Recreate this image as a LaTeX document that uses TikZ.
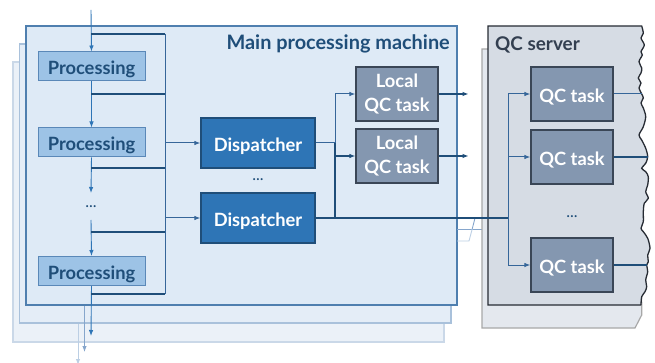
\documentclass[tikz,border=0pt]{standalone}
\usepackage{fontspec}
\setmainfont{Lato}
\usetikzlibrary{arrows.meta}
\definecolor{mainfill}{HTML}{DEEAF6}
\definecolor{mainborder}{HTML}{4F7FAF}
\definecolor{midfill}{HTML}{E4EDF7}
\definecolor{midborder}{HTML}{A9C1DB}
\definecolor{backfill}{HTML}{EBF1F8}
\definecolor{backborder}{HTML}{CAD8E8}
\definecolor{procfill}{HTML}{9DC3E6}
\definecolor{procborder}{HTML}{5A88B8}
\definecolor{darkblue}{HTML}{1F4E79}
\definecolor{dispfill}{HTML}{2E75B6}
\definecolor{qcfill}{HTML}{8497B0}
\definecolor{qcborder}{HTML}{3A4656}
\definecolor{srvfill}{HTML}{D6DCE4}
\definecolor{srvborder}{HTML}{262B33}
\definecolor{srvshfill}{HTML}{E4E8EE}
\definecolor{srvshborder}{HTML}{A8A8A8}
\definecolor{flowcol}{HTML}{2E75B6}
\definecolor{thincol}{HTML}{366699}
\definecolor{shmid}{HTML}{86A6CC}
\definecolor{shlight}{HTML}{BCCFE4}
\definecolor{srvtitle}{HTML}{333F50}
\tikzset{
  boxfont/.style={font=\bfseries\fontsize{18.3}{24}\selectfont},
  oneline/.style={text height=16.2pt, text depth=0pt},
  proc/.style={draw=procborder, fill=procfill, line width=1pt, minimum width=107pt, minimum height=29pt, inner sep=0pt, text=darkblue, boxfont, oneline},
  disp/.style={draw=darkblue, fill=dispfill, line width=1.2pt, minimum width=114pt, minimum height=50pt, inner sep=0pt, text=white, boxfont, oneline},
  qcbox/.style={draw=qcborder, fill=qcfill, line width=1.2pt, minimum width=82pt, minimum height=54pt, inner sep=0pt, text=white, align=center, boxfont},
  tip/.style={-{Latex[length=6pt,width=4.5pt]}},
  flow/.style={draw=flowcol, line width=0.9pt},
  busline/.style={draw=darkblue, line width=1.6pt},
  thinline/.style={draw=thincol, line width=1pt},
  dots/.style={text=darkblue, font=\fontsize{16}{16}\selectfont, inner sep=0pt},
  titlefont/.style={font=\bfseries\fontsize{19.9}{22}\selectfont, inner sep=0pt}
}
\begin{document}
\begin{tikzpicture}[x=1pt,y=-1pt]
\useasboundingbox (0,0) rectangle (655,363);
% stacked machine layers
\filldraw[fill=backfill, draw=backborder, line width=1.2pt] (13,62) rectangle (444,342);
\draw[draw=shlight, line width=0.9pt, tip] (78,320) -- (78,365);
\filldraw[fill=midfill, draw=midborder, line width=1.2pt] (19.5,44) rectangle (451,323);
\draw[draw=shmid, line width=0.9pt, tip] (84.5,300) -- (84.5,352);
\filldraw[fill=mainfill, draw=mainborder, line width=1.2pt] (26,26) rectangle (457,305);
\node[anchor=base east, text=darkblue, titlefont] (title) at (450,50) {Main processing machine};
% shadow connections
\draw[draw=shmid, line width=0.9pt] (457,229) -- (483,229);
\draw[draw=shmid, line width=0.9pt] (472.2,229) -- (475,218);
\draw[draw=shlight, line width=0.9pt] (457,241) -- (469,241) -- (472.2,229);
% QC server
\filldraw[fill=srvshfill, draw=srvshborder, line width=1.2pt] (482,49) -- (636,49) -- (641.7,305) -- (641.7,315) -- (635,328) -- (482,328) -- cycle;
\filldraw[fill=srvfill, draw=srvborder, line width=1.3pt] (641,305) -- (488,305) -- (488,26) -- (641.7,26)
  -- plot[smooth, tension=0.5] coordinates {(641.7,26) (643.3,33.3) (641,38) (644.3,45) (641,51.7) (642.3,55) (639,61.7) (641.7,68) (641,73) (638.3,78) (641,83) (639,88) (641.7,94) (643.3,98) (641,103) (643.3,108) (645.7,116.7) (643.3,126.7) (639,135) (641.7,140) (645.7,148.3) (647.7,156.7) (645.7,163.3) (641.7,168.3) (645.7,171.7) (648.3,176.7) (647.7,185) (645.7,191.7) (648.3,198.3) (644.3,203.3) (643.3,211.7) (643.3,221.7) (641,228.3) (643.3,231.7) (647.7,238.3) (650,248.3) (647.7,255) (648.3,261.7) (646.7,265) (647.7,271.7) (645.7,280) (646.7,286.7) (645,291.7) (641.7,296.7) (641,305)};
\node[anchor=base west, text=srvtitle, font=\bfseries\fontsize{18.9}{22}\selectfont, inner sep=0pt] (srvtitle) at (495,51) {QC server};
% nodes
\node[proc] (p1) at (91.5,66.5) {Processing};
\node[proc] (p2) at (91.5,142.5) {Processing};
\node[proc] (p3) at (91.5,271) {Processing};
\node[dots] (pd) at (91,207) {...};
\node[disp] (d1) at (258,143) {Dispatcher};
\node[disp] (d2) at (258,218) {Dispatcher};
\node[dots] (dd) at (258,180) {...};
\node[qcbox] (l1) at (397,94) {Local\\QC task};
\node[qcbox] (l2) at (397,156) {Local\\QC task};
\node[qcbox, oneline] (q1) at (572,94) {QC task};
\node[qcbox, oneline] (q2) at (572,157) {QC task};
\node[qcbox, oneline] (q3) at (572,265) {QC task};
\node[dots] (qd) at (572,217) {...};
% coordinates
\coordinate (in) at (91,10);
\coordinate (out) at (91,336);
\coordinate (b0) at (165,34);
\coordinate (bz) at (165,294);
\coordinate (dj) at (335,143);
\coordinate (sj) at (508,218);
% processing flow
\draw[flow, tip] (in) -- (p1.north);
\draw[flow, tip] (p1.south) -- (p2.north);
\draw[flow, tip] (p2.south) -- (pd.north |- 0,193);
\draw[flow, tip] (pd.south |- 0,220) -- (p3.north);
\draw[flow, tip] (p3.south) -- (out);
% bus branches
\draw[busline] (in |- b0) -- (b0);
\draw[busline] (in |- 0,94) -- (b0 |- 0,94);
\draw[busline] (in |- 0,168) -- (b0 |- 0,168);
\draw[busline] (in |- 0,232) -- (b0 |- 0,232);
\draw[busline] (in |- bz) -- (bz);
\draw[thinline] (b0) -- (bz);
\draw[thinline, tip] (b0 |- d1.west) -- (d1.west);
\draw[thinline, tip] (b0 |- d2.west) -- (d2.west);
% dispatcher outputs
\draw[thinline] (d1.east) -- (dj);
\draw[thinline, tip] (dj) -- (dj |- l1.west) -- (l1.west);
\draw[busline] (dj) -- (dj |- d2.east);
\draw[busline, tip] (dj |- l2.west) -- (l2.west);
\draw[busline] (d2.east) -- (sj);
\draw[thinline] (sj |- q1.west) -- (sj |- q3.west);
\draw[thinline, tip] (sj |- q1.west) -- (q1.west);
\draw[thinline, tip] (sj |- q2.west) -- (q2.west);
\draw[thinline, tip] (sj |- q3.west) -- (q3.west);
% outputs
\draw[busline, tip] (l1.east) -- ++(30,0);
\draw[busline, tip] (l2.east) -- ++(30,0);
\draw[thinline] (q1.east) -- (641.7,94);
\draw[busline] (q2.east) -- (647.5,157);
\draw[busline] (q3.east) -- (646.7,265);
\end{tikzpicture}
\end{document}
